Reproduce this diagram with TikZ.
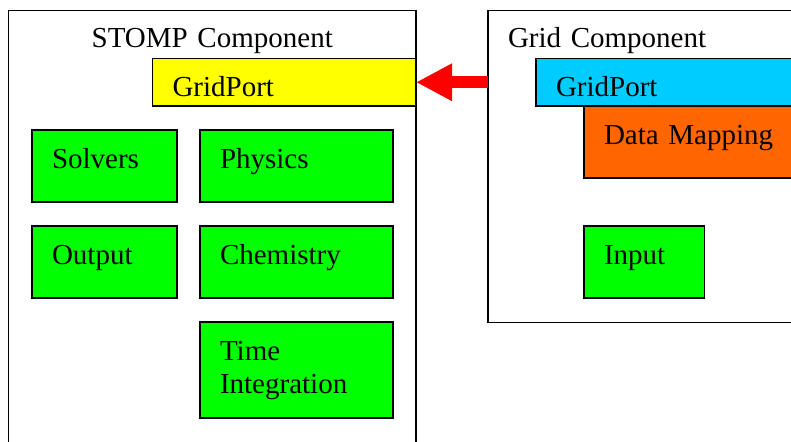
\documentclass[tikz,border=0pt]{standalone}
\usepackage{fontspec}
\setmainfont{Liberation Serif}
\usepackage{tikz}
\usetikzlibrary{arrows.meta,positioning}
\definecolor{stompgreen}{HTML}{00FF00}
\definecolor{portyellow}{HTML}{FFFF00}
\definecolor{portcyan}{HTML}{00CCFF}
\definecolor{maporange}{HTML}{FF6600}
\definecolor{arrowred}{HTML}{FF0000}
\tikzset{
  compbox/.style={rectangle, draw=black, fill=white, line width=1.2pt, outer sep=0pt, inner ysep=0pt, text height=37pt, font=\fontsize{29}{33}\selectfont},
  gbox/.style={rectangle, draw=black, fill=stompgreen, line width=1.2pt, outer sep=0pt, inner xsep=20pt, inner ysep=0pt, align=left, text height=38pt, text depth=34pt, font=\fontsize{29}{33}\selectfont},
  portbox/.style={gbox, text depth=9.5pt},
  portarrow/.style={draw=arrowred, line width=11.5pt, -{Triangle[length=36pt,width=35pt]}},
}
\begin{document}
\begin{tikzpicture}[node distance=24pt and 23pt]
  \useasboundingbox (0,0) rectangle (791pt,-441pt);
  \clip (0,0) rectangle (791pt,-441pt);
  % components
  \node[compbox, anchor=north west, inner xsep=0pt, text width=407.5pt, align=center, text depth=433pt] (stomp) at (8.5pt,-10.5pt) {STOMP Component};
  \node[compbox, anchor=north west, inner xsep=20pt, text width=300pt, align=left, text depth=275pt] (grid) at (488pt,-10.5pt) {Grid Component};
  % stomp parts
  \node[portbox, fill=portyellow, anchor=north west, text width=223.5pt] (stompport) at (152.5pt,-58.5pt) {GridPort};
  \node[gbox, anchor=north west, text width=105pt] (solvers) at (32pt,-130pt) {Solvers};
  \node[gbox, right=of solvers, text width=153pt] (physics) {Physics};
  \node[gbox, below=of solvers, text width=105pt] (output) {Output};
  \node[gbox, below=of physics, text width=153pt] (chemistry) {Chemistry};
  \node[gbox, below=of chemistry, text width=153pt, text depth=58pt] (timeint) {Time\\Integration};
  % grid parts
  \node[portbox, fill=portcyan, anchor=north west, text width=260pt] (gridport) at (536pt,-58.5pt) {GridPort};
  \node[gbox, fill=maporange, anchor=north west, text width=206pt] (mapping) at (584pt,-106pt) {Data Mapping};
  \node[gbox, anchor=north west, text width=80.5pt] (input) at (584pt,-226pt) {Input};
  % port link
  \draw[portarrow] (stompport.east -| grid.west) -- (stompport.east);
\end{tikzpicture}
\end{document}
